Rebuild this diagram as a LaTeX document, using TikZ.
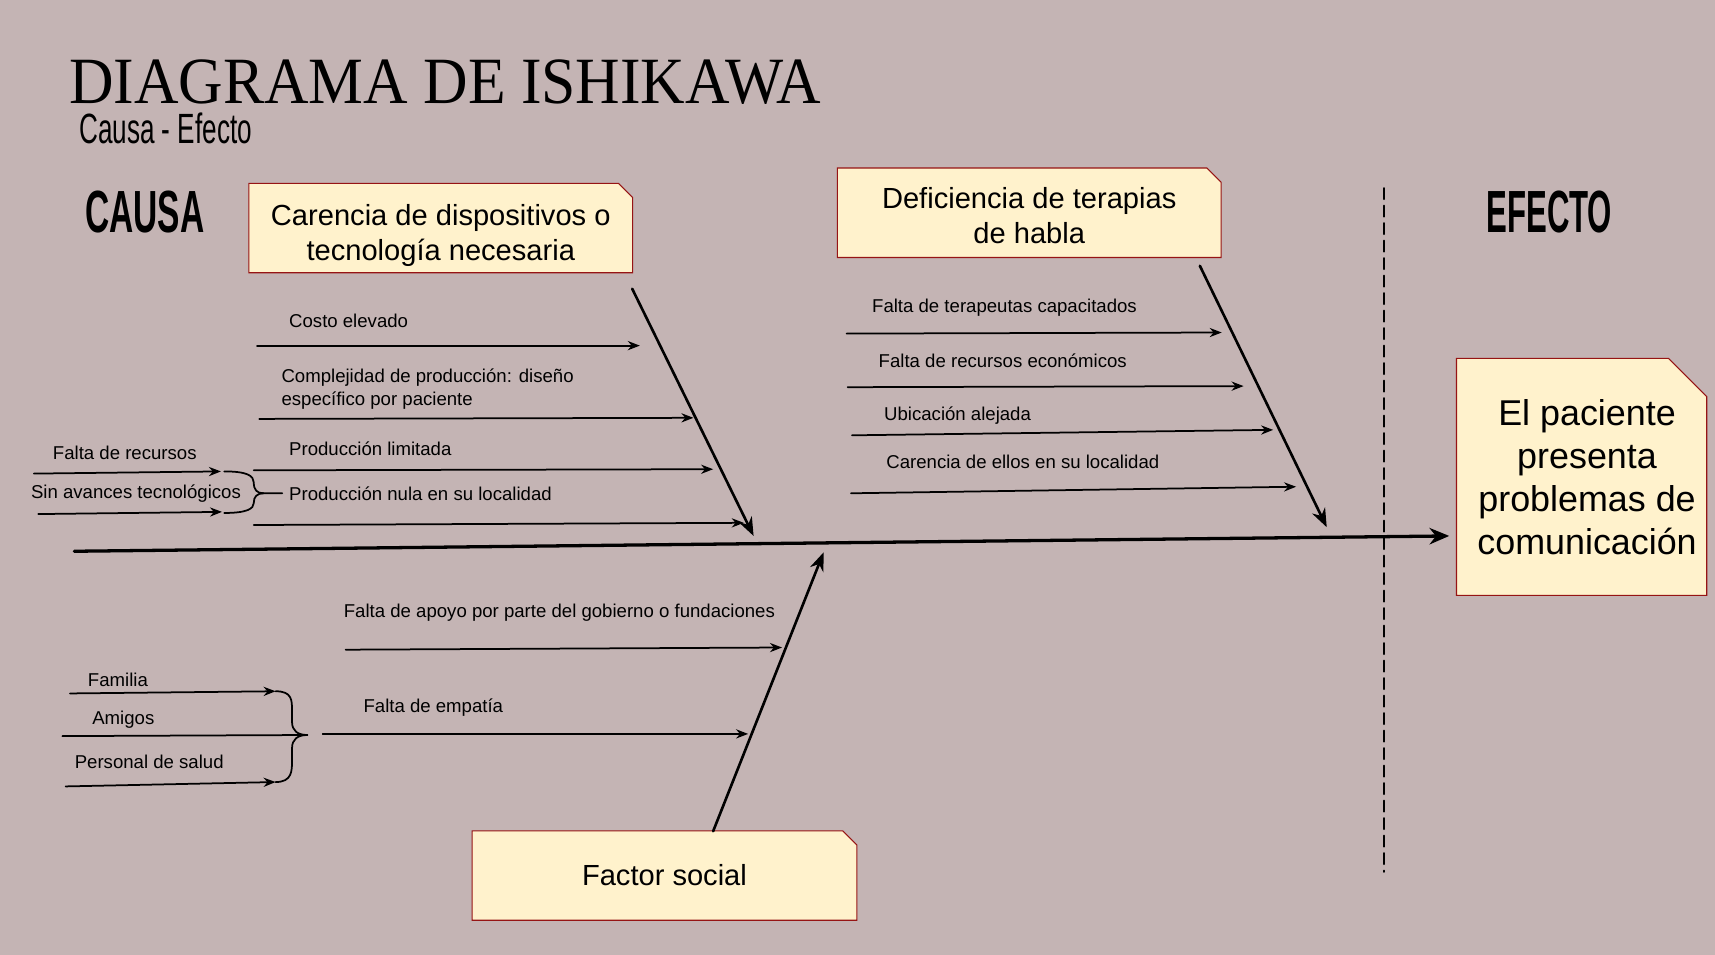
\documentclass[tikz,border=0pt]{standalone}
\usepackage{fontspec}
\setmainfont{Liberation Sans}
\newfontfamily\titlefont{Liberation Serif}
\usepackage{graphicx}
\usetikzlibrary{arrows.meta,backgrounds}
\definecolor{fondo}{RGB}{196,180,180}
\definecolor{caja}{RGB}{255,242,204}
\definecolor{borde}{RGB}{150,20,20}
\tikzset{
  sub/.style={-{Stealth[length=5.5pt,width=4.2pt]},line width=0.8pt},
  bone/.style={-{Stealth[length=8.5pt,width=6.5pt]},line width=1.2pt},
  lbl/.style={inner sep=0pt,font=\fontsize{8.5}{10.5}\selectfont},
  cbox/.style={inner sep=0pt,align=center,font=\fontsize{13.3}{16}\selectfont},
}
% marco con esquina recortada: nodo, recorte, desplazamiento x, y
\newcommand{\snipframe}[4]{%
  \filldraw[fill=caja,draw=borde,line width=0.5pt] ([shift={(#3,#4)}]#1.south west) -- ([shift={(#3,#4)}]#1.north west) -- ([shift={(#3-#2,#4)}]#1.north east) -- ([shift={(#3,#4-#2)}]#1.north east) -- ([shift={(#3,#4)}]#1.south east) -- cycle;}

\begin{document}
\begin{tikzpicture}[line cap=round,line join=round,x=0.5pt,y=-0.5pt]
\useasboundingbox (0,0) rectangle (1568,873);

% titulos
\node[inner sep=0pt,anchor=west] (titulo) at (63,75) {\titlefont\resizebox{343.5pt}{20pt}{DIAGRAMA DE ISHIKAWA}};
\node[inner sep=0pt,anchor=west] (subtitulo) at (72,117) {\resizebox{79pt}{14pt}{Causa - Efecto}};
\node[inner sep=0pt] (causa) at (132.5,194) {\resizebox{54.5pt}{19pt}{\bfseries CAUSA}};
\node[inner sep=0pt] (efecto) at (1416.5,194) {\resizebox{57.5pt}{19pt}{\bfseries EFECTO}};

% cajas
\node[cbox,minimum width=175pt,minimum height=40.5pt] (box1) at (403,215.5) {Carencia de dispositivos o\\tecnología necesaria};
\node[cbox,minimum width=175pt,minimum height=40.5pt] (box2) at (941,197.5) {Deficiencia de terapias\\de habla};
\node[cbox,minimum width=175.5pt,minimum height=40.5pt] (box3) at (607.5,800.5) {Factor social};
\node[cbox,minimum width=114pt,minimum height=108pt,font=\fontsize{16.4}{19.7}\selectfont] (box4) at (1451,436) {El paciente\\presenta\\problemas de\\comunicación};

% espina y linea de efecto
\coordinate (E1) at (68,504);
\coordinate (E2) at (1325,490);
\draw [-{Stealth[length=9pt,width=7.5pt]},line width=1.5pt] (E1)-- (E2);
\coordinate (D1) at (1265,172);
\coordinate (D2) at (1265,797);
\draw [line width=1pt,dash pattern=on 5pt off 3pt] (D1)-- (D2);

% espinas
\coordinate (A1) at (578,264);
\coordinate (A2) at (689,490);
\coordinate (B1) at (1097,243);
\coordinate (B2) at (1213,482);
\coordinate (C1) at (652,760);
\coordinate (C2) at (753,505);
\draw [bone] (A1)-- (A2);
\draw [bone] (B1)-- (B2);
\draw [bone] (C1)-- (C2);

% causas de box1
\node[lbl,anchor=base west] (a1) at (264,299) {Costo elevado};
\node[lbl,anchor=north west,align=left] (a2) at (257,337) {Complejidad de producción: diseño\\específico por paciente};
\node[lbl,anchor=base west] (a3) at (264,416) {Producción limitada};
\node[lbl,anchor=base west] (a4) at (264,458) {Producción nula en su localidad};
\node[lbl,anchor=base west] (a5) at (48,420) {Falta de recursos};
\node[lbl,anchor=base west] (a6) at (28,456) {Sin avances tecnológicos};
\coordinate (a1s) at (235,316);
\coordinate (a1e) at (585,316);
\coordinate (a2s) at (237,383);
\coordinate (a2e) at (634,382);
\coordinate (a3s) at (232,430);
\coordinate (a3e) at (652,429);
\coordinate (a4s) at (232,480);
\coordinate (a4e) at (680,478);
\coordinate (a5s) at (31,433);
\coordinate (a5e) at (202,431);
\coordinate (a6s) at (35,470);
\coordinate (a6e) at (203,468);
\draw [sub] (a1s)-- (a1e);
\draw [sub] (a2s)-- (a2e);
\draw [sub] (a3s)-- (a3e);
\draw [sub] (a4s)-- (a4e);
\draw [sub] (a5s)-- (a5e);
\draw [sub] (a6s)-- (a6e);
\draw [line width=0.8pt] (205,431) .. controls (226,431) and (232,435) .. (232,441) .. controls (232,448) and (235,451) .. (241,451);
\draw [line width=0.8pt] (205,469) .. controls (226,469) and (232,465) .. (232,460) .. controls (232,454) and (235,451) .. (241,451) -- (258,451);

% causas de box2
\node[lbl,anchor=base west] (b1) at (797,286) {Falta de terapeutas capacitados};
\node[lbl,anchor=base west] (b2) at (803,336) {Falta de recursos económicos};
\node[lbl,anchor=base west] (b3) at (808,384) {Ubicación alejada};
\node[lbl,anchor=base west] (b4) at (810,428) {Carencia de ellos en su localidad};
\coordinate (b1s) at (774,305);
\coordinate (b1e) at (1117,304);
\coordinate (b2s) at (775,354);
\coordinate (b2e) at (1137,353);
\coordinate (b3s) at (779,398);
\coordinate (b3e) at (1164,393);
\coordinate (b4s) at (778,451);
\coordinate (b4e) at (1185,445);
\draw [sub] (b1s)-- (b1e);
\draw [sub] (b2s)-- (b2e);
\draw [sub] (b3s)-- (b3e);
\draw [sub] (b4s)-- (b4e);

% causas de box3
\node[lbl,anchor=base west] (c1) at (314,565) {Falta de apoyo por parte del gobierno o fundaciones};
\node[lbl,anchor=base west] (c2) at (332,651) {Falta de empatía};
\node[lbl,anchor=base west] (c3) at (80,628) {Familia};
\node[lbl,anchor=base west] (c4) at (84,662) {Amigos};
\node[lbl,anchor=base west] (c5) at (68,703) {Personal de salud};
\coordinate (c1s) at (316,594);
\coordinate (c1e) at (715,592);
\coordinate (c2s) at (295,671);
\coordinate (c2e) at (684,671);
\coordinate (c3s) at (64,634);
\coordinate (c3e) at (252,632);
\coordinate (c4s) at (57,673);
\coordinate (c4e) at (281,672);
\coordinate (c5s) at (60,719);
\coordinate (c5e) at (252,715);
\draw [sub] (c1s)-- (c1e);
\draw [sub] (c2s)-- (c2e);
\draw [sub] (c3s)-- (c3e);
\draw [line width=0.8pt] (c4s)-- (c4e);
\draw [sub] (c5s)-- (c5e);
\draw [line width=0.8pt] (252,632) .. controls (267,632) and (267,640) .. (267,650) -- (267,660) .. controls (267,668) and (272,672) .. (281,672);
\draw [line width=0.8pt] (252,715) .. controls (267,715) and (267,705) .. (267,695) -- (267,684) .. controls (267,676) and (272,672) .. (281,672);

\begin{scope}[on background layer]
\fill[fondo] (0,0) rectangle (1568,873);
\snipframe{box1}{6.5pt}{0pt}{3.5pt}
\snipframe{box2}{6.5pt}{0pt}{1.5pt}
\snipframe{box3}{6.5pt}{0pt}{0pt}
\snipframe{box4}{17.5pt}{-2.5pt}{0pt}
\end{scope}
\end{tikzpicture}
\end{document}
